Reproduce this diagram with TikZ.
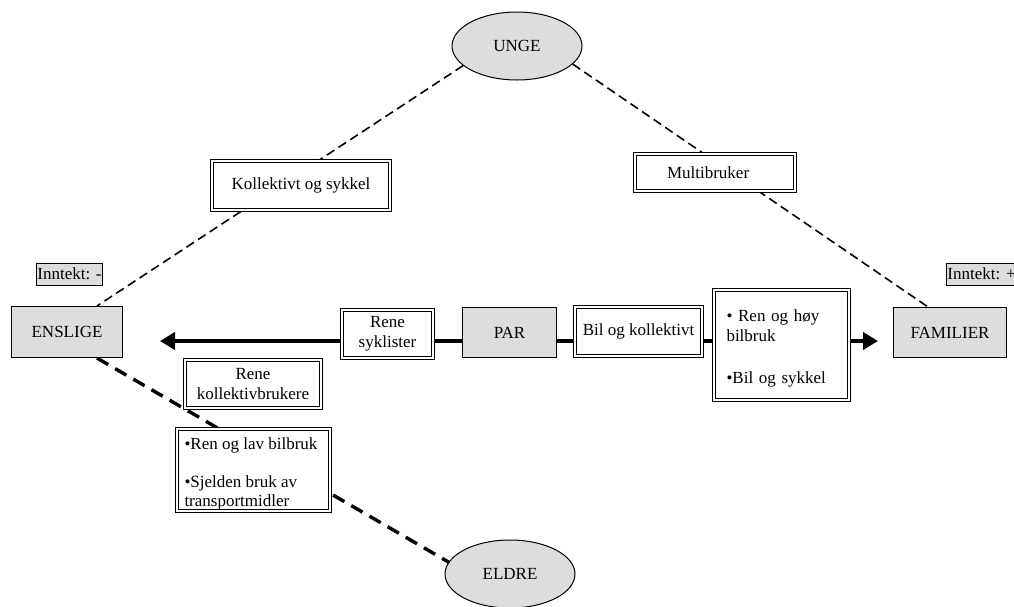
\documentclass[tikz,border=0pt]{standalone}
\usepackage{fontspec}
\setmainfont{Liberation Serif}
\usetikzlibrary{arrows.meta,shapes.geometric}
\pgfdeclarelayer{bg}
\pgfsetlayers{bg,main}
\definecolor{boxgray}{HTML}{DDDDDD}
\begin{document}
\begin{tikzpicture}[x=1pt,y=-1pt,font=\fontsize{17}{20}\selectfont,
  greybox/.style={draw,line width=1.1pt,fill=boxgray,inner sep=0pt},
  oval/.style={ellipse,draw,line width=1pt,fill=boxgray,inner sep=0pt,minimum width=130pt,minimum height=68pt},
  dbox/.style={draw,line width=0.9pt,double=white,double distance=2.4pt,fill=white,inner sep=0pt,align=center},
  labbox/.style={draw,line width=0.9pt,fill=boxgray,inner sep=1pt},
  thindash/.style={line width=1.6pt,dash pattern=on 9pt off 5pt},
  thickdash/.style={line width=3.4pt,dash pattern=on 13pt off 8pt},
  mainline/.style={line width=4pt,{Triangle[length=15pt,width=17pt]}-{Triangle[length=15pt,width=17pt]}}]
\useasboundingbox (0,0) rectangle (1014,606);

% ovals
\node[oval] (unge) at (517,46) {UNGE};
\node[oval] (eldre) at (510,574) {ELDRE};

% grey boxes
\node[greybox,minimum width=111pt,minimum height=51pt] (enslige) at (67,332) {ENSLIGE};
\node[greybox,minimum width=113pt,minimum height=50pt] (familier) at (950,332.5) {FAMILIER};
\node[greybox,minimum width=94pt,minimum height=50pt] (par) at (509.5,332.5) {PAR};

% income labels
\node[labbox,minimum width=65pt,minimum height=22pt] (inntmin) at (69.5,274) {Inntekt: -};
\node[labbox,anchor=west,minimum height=22pt] (inntpluss) at (946,274) {Inntekt: +\hspace{8pt}};

% double boxes
\node[dbox,minimum width=178pt,minimum height=49pt] (kollsyk) at (301,185.5) {Kollektivt og sykkel};
\node[dbox,minimum width=160pt,minimum height=37pt,text width=96pt,align=left] (multi) at (715,172.5) {Multibruker};
\node[dbox,minimum width=91pt,minimum height=48pt] (syklister) at (387.5,334) {Rene\\syklister};
\node[dbox,minimum width=127pt,minimum height=49pt] (bilkoll) at (638.5,331.5) {Bil og kollektivt};
\node[dbox,minimum width=136pt,minimum height=48pt] (kollbrukere) at (253,384) {Rene\\kollektivbrukere};
\node[dbox,minimum width=135pt,minimum height=110pt,text width=110pt,align=left] (hoybil) at (781.5,345)
  {\rule{0pt}{19pt}• Ren og høy\\bilbruk\\[22pt]•Bil og sykkel};
\node[dbox,minimum width=153pt,minimum height=82pt] (lavbil) at (253.5,470)
  {\raisebox{-8pt}[0pt][0pt]{\parbox{138pt}{\fontsize{17}{19}\selectfont\raggedright •Ren og lav bilbruk\\[19pt]•Sjelden bruk av\\transportmidler}}};

\coordinate (leftend) at (160,341);
\coordinate (rightend) at (878,341);

\begin{pgfonlayer}{bg}
  \draw[thindash] (unge.200) -- ([xshift=30pt]enslige.north);
  \draw[thindash] (unge.342) -- ([xshift=-22pt]familier.north);
  \draw[thickdash] ([xshift=30pt]enslige.south) -- (eldre.169);
  \draw[mainline] (leftend) -- (rightend);
\end{pgfonlayer}
\end{tikzpicture}
\end{document}
